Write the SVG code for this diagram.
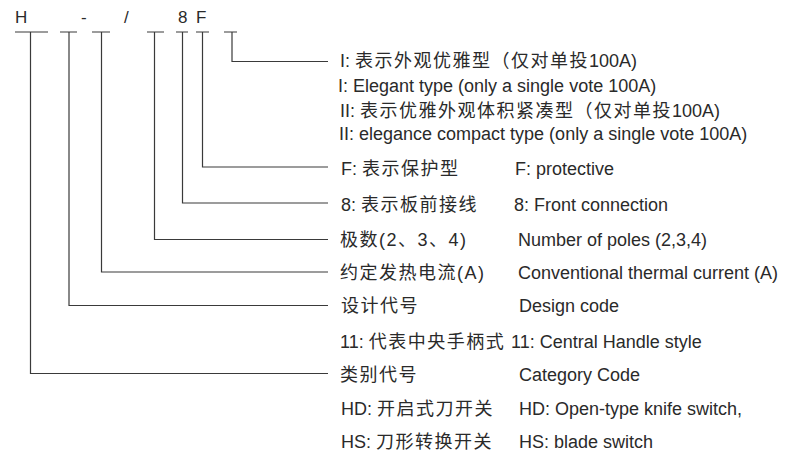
<svg xmlns="http://www.w3.org/2000/svg" width="789" height="455" viewBox="0 0 789 455">
<style>
text{font-family:"Liberation Sans","Noto Sans CJK SC",sans-serif;font-size:18px;fill:#2a2a2a}
.code{font-size:17px}
.cj{letter-spacing:1.5px}
.c{fill:none;stroke:#3a3a3a;stroke-width:1.2}
</style>
<rect width="789" height="455" fill="#fff"/>
<g id="code">
<text class="code" x="15" y="23">H</text>
<text class="code" x="81" y="23">-</text>
<text class="code" x="124" y="23">/</text>
<text class="code" x="178" y="23">8</text>
<text class="code" x="196" y="23">F</text>
</g>
<g id="connectors">
<path class="c" d="M15 32H48M30.5 32V373.5H328"/>
<path class="c" d="M60 32H77M69 32V305.5H328"/>
<path class="c" d="M92 32H110M101.5 32V272H328"/>
<path class="c" d="M147 32H164M154.5 32V239.5H328"/>
<path class="c" d="M176 32H188M182.5 32V203H328"/>
<path class="c" d="M196 32H209M202.5 32V167H328"/>
<path class="c" d="M224 32H237M232 32V61.5H328"/>
</g>
<g id="row-type">
<text x="340" y="67">I: <tspan class="cj">表示外观优雅型（仅对单投</tspan>100A)</text>
<text x="338" y="92">I: Elegant type (only a single vote 100A)</text>
<text x="340" y="117">II: <tspan class="cj">表示优雅外观体积紧凑型（仅对单投</tspan>100A)</text>
<text x="339" y="140">II: elegance compact type (only a single vote 100A)</text>
</g>
<g id="row-f">
<text x="341" y="175">F: <tspan class="cj">表示保护型</tspan></text>
<text x="515" y="175">F: protective</text>
</g>
<g id="row-8">
<text x="341" y="211">8: <tspan class="cj">表示板前接线</tspan></text>
<text x="514" y="211">8: Front connection</text>
</g>
<g id="row-poles">
<text class="cj" x="340" y="246">极数(2、3、4)</text>
<text x="518" y="246">Number of poles (2,3,4)</text>
</g>
<g id="row-current">
<text class="cj" x="340" y="279">约定发热电流(A)</text>
<text x="518" y="279">Conventional thermal current (A)</text>
</g>
<g id="row-design">
<text class="cj" x="341" y="312">设计代号</text>
<text x="519" y="312">Design code</text>
</g>
<g id="row-handle">
<text x="340" y="348">11: <tspan class="cj">代表中央手柄式</tspan></text>
<text x="511" y="348">11: Central Handle style</text>
</g>
<g id="row-category">
<text class="cj" x="340" y="381">类别代号</text>
<text x="519" y="381">Category Code</text>
</g>
<g id="row-hd">
<text x="341" y="415">HD: <tspan class="cj">开启式刀开关</tspan></text>
<text x="519" y="415">HD: Open-type knife switch,</text>
</g>
<g id="row-hs">
<text x="341" y="448">HS: <tspan class="cj">刀形转换开关</tspan></text>
<text x="519" y="448">HS: blade switch</text>
</g>
</svg>
